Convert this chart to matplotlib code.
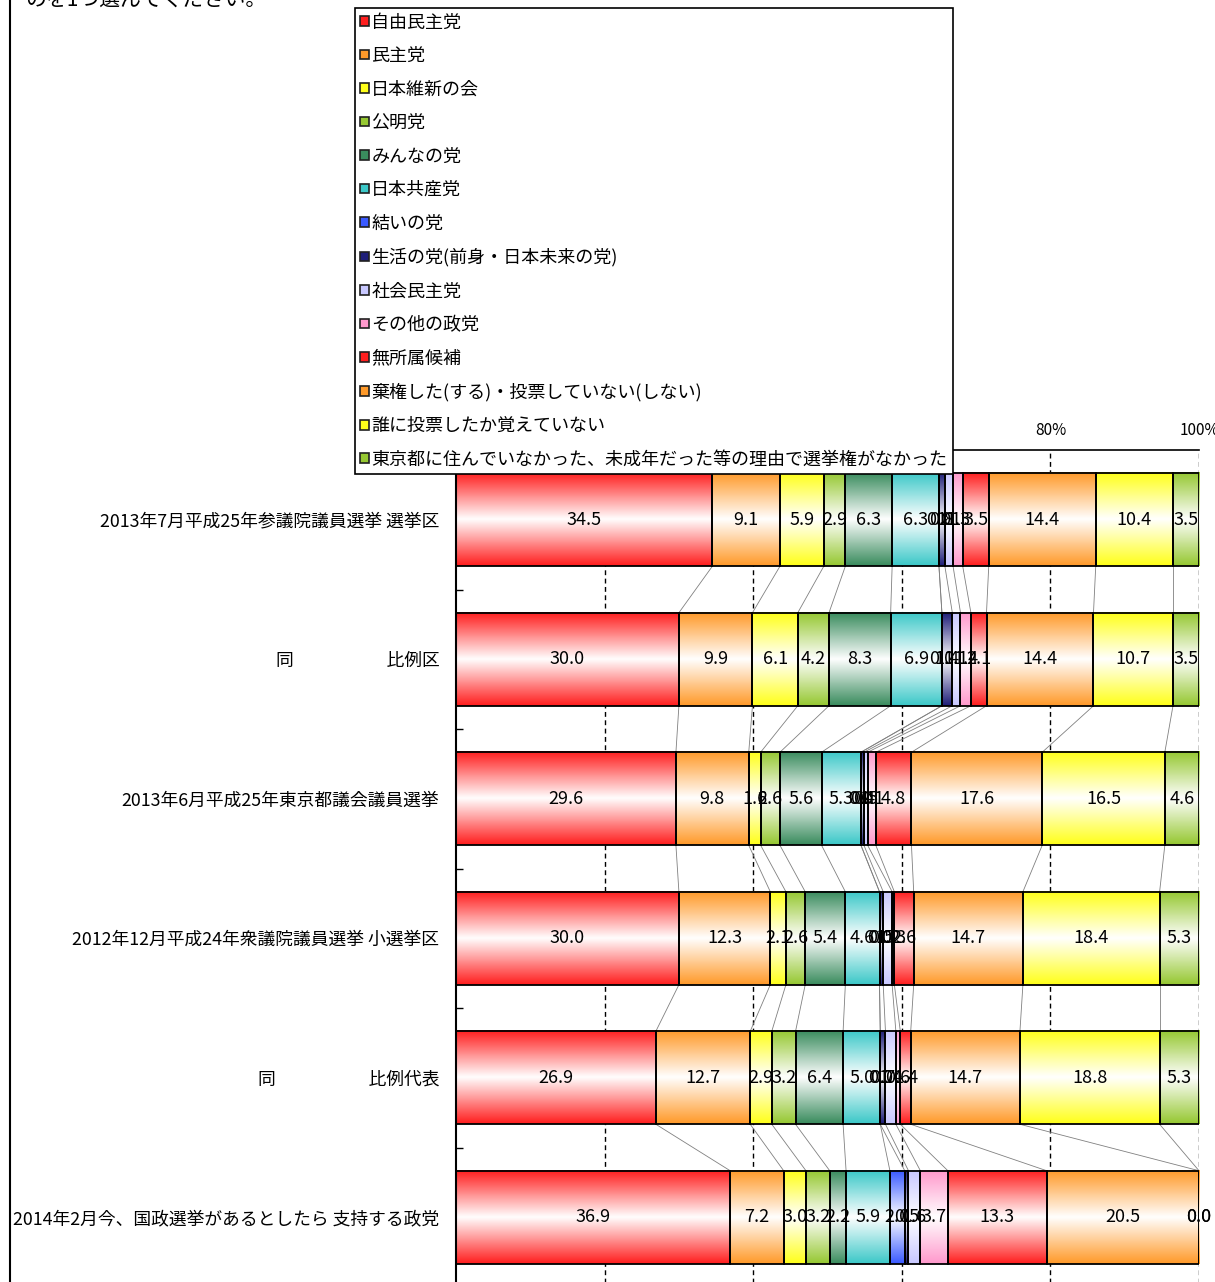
import numpy as np
import matplotlib
matplotlib.use("Agg")
import matplotlib.pyplot as plt
from matplotlib.colors import LinearSegmentedColormap
from matplotlib.patches import Patch
from matplotlib.lines import Line2D

plt.rcParams['font.family'] = ['Noto Sans CJK JP', 'DejaVu Sans']

# categories (top to bottom)
categories = [
    "2013年7月平成25年参議院議員選挙 選挙区",
    "同　　　　　 比例区",
    "2013年6月平成25年東京都議会議員選挙",
    "2012年12月平成24年衆議院議員選挙 小選挙区",
    "同　　　　　 比例代表",
    "2014年2月今、国政選挙があるとしたら 支持する政党",
]

parties = [
    "自由民主党", "民主党", "日本維新の会", "公明党", "みんなの党", "日本共産党",
    "結いの党", "生活の党(前身・日本未来の党)", "社会民主党", "その他の政党",
    "無所属候補", "棄権した(する)・投票していない(しない)",
    "誰に投票したか覚えていない",
    "東京都に住んでいなかった、未成年だった等の理由で選挙権がなかった",
]

# percentages per row, in the same order as parties
sangiin_senkyoku = [34.5, 9.1, 5.9, 2.9, 6.3, 6.3, 0.0, 0.8, 1.1, 1.3, 3.5, 14.4, 10.4, 3.5]
sangiin_hirei = [30.0, 9.9, 6.1, 4.2, 8.3, 6.9, 0.0, 1.4, 1.1, 1.4, 2.1, 14.4, 10.7, 3.5]
togikai = [29.6, 9.8, 1.6, 2.6, 5.6, 5.3, 0.0, 0.4, 0.5, 1.1, 4.8, 17.6, 16.5, 4.6]
shugiin_shosenkyoku = [30.0, 12.3, 2.1, 2.6, 5.4, 4.6, 0.0, 0.5, 1.2, 0.3, 2.6, 14.7, 18.4, 5.3]
shugiin_hirei = [26.9, 12.7, 2.9, 3.2, 6.4, 5.0, 0.0, 0.7, 1.4, 0.6, 1.4, 14.7, 18.8, 5.3]
shiji_2014 = [36.9, 7.2, 3.0, 3.2, 2.2, 5.9, 2.0, 0.5, 1.6, 3.7, 13.3, 20.5, 0.0, 0.0]

colors = [
    "#ff1f1f", "#ff9a2a", "#ffff1a", "#96c832", "#3a8c5e", "#3cc8c8",
    "#3a5aff", "#1e1e78", "#c8c8ff", "#ff99cc",
    "#ff1f1f", "#ff9a2a", "#ffff1a", "#96c832",
]

values = np.array([sangiin_senkyoku, sangiin_hirei, togikai,
                   shugiin_shosenkyoku, shugiin_hirei, shiji_2014])
# 100% stacked: normalise each row
shares = values / values.sum(axis=1, keepdims=True) * 100
right = np.cumsum(shares, axis=1)
left = right - shares

W, H = 1215, 1282
fig = plt.figure(figsize=(W / 100, H / 100), dpi=100)
ax = fig.add_axes([456 / W, (H - 1287) / H, 743 / W, 837 / H])

ypos = np.arange(len(categories))
bar_h = 0.667

# gradient fill, colour -> white -> colour
grad = np.linspace(0, 1, 64).reshape(-1, 1)
for s, c in enumerate(colors):
    cmap = LinearSegmentedColormap.from_list("g%d" % s, [c, "white", c])
    for i in ypos:
        if shares[i, s] <= 0:
            continue
        ax.imshow(grad, cmap=cmap, aspect="auto", interpolation="bilinear",
                  extent=(left[i, s], right[i, s], i + bar_h / 2, i - bar_h / 2),
                  zorder=2)

# outlines
for s in range(len(parties)):
    ax.barh(ypos, shares[:, s], left=left[:, s], height=bar_h, fill=False,
            edgecolor="black", linewidth=1.3, zorder=3)

# series lines between bars
for i in ypos[:-1]:
    for s in range(len(parties)):
        ax.plot([right[i, s], right[i + 1, s]],
                [i + bar_h / 2, i + 1 - bar_h / 2],
                color="#808080", linewidth=0.6, zorder=1)

# value labels
for i in ypos:
    for s in range(len(parties)):
        ax.text((left[i, s] + right[i, s]) / 2, i, "%.1f" % values[i, s],
                ha="center", va="center", fontsize=13, zorder=4)

ax.set_xlim(0, 100)
ax.set_ylim(len(categories) - 0.5, -0.5)
ax.set_aspect("auto")

ax.xaxis.tick_top()
ax.set_xticks([0, 20, 40, 60, 80, 100])
ax.set_xticklabels(["0%", "20%", "40%", "60%", "80%", "100%"], fontsize=11)
ax.tick_params(axis="x", length=0, pad=8)
for x in [20, 40, 60, 80, 100]:
    ax.axvline(x, color="black", linewidth=1, linestyle=(0, (3.5, 2.5)), zorder=0)

ax.set_yticks(ypos)
ax.set_yticklabels(categories, fontsize=12.8)
ax.tick_params(axis="y", which="major", length=0, pad=12)
ax.set_yticks(np.arange(0.5, len(categories) - 0.5), minor=True)
ax.tick_params(axis="y", which="minor", length=5, direction="in", width=1)

ax.spines["right"].set_visible(False)
ax.spines["bottom"].set_visible(False)
ax.spines["left"].set_linewidth(1.5)
ax.spines["top"].set_linewidth(1.2)

# legend
handles = [Patch(facecolor=c, edgecolor="#202020", linewidth=1.2) for c in colors]
leg = fig.legend(handles, parties, loc="upper left",
                 bbox_to_anchor=(355 / W, 1 - 8 / H), fontsize=13,
                 frameon=True, fancybox=False, edgecolor="black",
                 borderaxespad=0, borderpad=0.3, labelspacing=0.86,
                 handlelength=0.45, handleheight=0.45, handletextpad=0.15)
leg.get_frame().set_linewidth(1.2)
leg.get_frame().set_alpha(1)

# chart title, cut off at the top edge
fig.text(25 / W, 1 - 6 / H, "のを1つ選んでください。", fontsize=15, va="baseline")
# chart area border
fig.add_artist(Line2D([10 / W, 10 / W], [0, 1], color="black", linewidth=1.5))

fig.savefig("out.png", dpi=100)
